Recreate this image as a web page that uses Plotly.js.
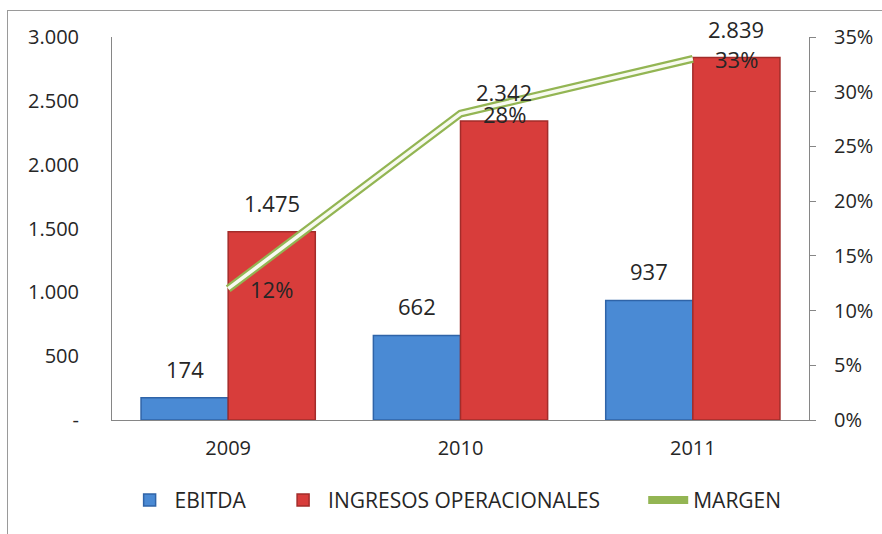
<!DOCTYPE html>
<html>
<head>
<meta charset="utf-8">
<script src="https://cdn.plot.ly/plotly-3.0.1.min.js"></script>
<style>
  html, body { margin: 0; padding: 0; background: #ffffff; overflow: hidden; }
  #chart { position: absolute; left: 0; top: 0; width: 882px; height: 534px; }
  #frame { position: absolute; left: 7px; top: 10px; width: 900px; height: 600px;
           border-left: 1px solid #9a9a9a; border-top: 1px solid #9a9a9a; pointer-events: none; }
</style>
</head>
<body>
<div id="chart"></div>
<div id="frame"></div>
<script>
// ---- data ----
const years = ['2009', '2010', '2011'];
const ebitda = [174, 662, 937];
const ingresos = [1475, 2342, 2839];
const margen = [0.12, 0.28, 0.33];
const margenLabels = ['12%', '28%', '33%'];
const leftTickVals = [0, 500, 1000, 1500, 2000, 2500, 3000];
const leftTickText = ['-', '500', '1.000', '1.500', '2.000', '2.500', '3.000'];

const FONT = 'Open Sans, Roboto, sans-serif';
const TXT = '#262626';
const NB = '\u00a0';
const fmt = v => v.toLocaleString('de-DE');

const traces = [
  {
    type: 'bar', name: 'EBITDA' + NB.repeat(5), x: years, y: ebitda,
    marker: { color: '#4a8ad4', line: { color: '#2f64a8', width: 1.5 } },
    hoverinfo: 'skip'
  },
  {
    type: 'bar', name: 'INGRESOS OPERACIONALES' + NB.repeat(7), x: years, y: ingresos,
    marker: { color: '#d83d3b', line: { color: '#a32c2a', width: 1.5 } },
    hoverinfo: 'skip'
  },
  {
    type: 'scatter', mode: 'lines', name: 'MARGEN', x: years, y: margen, yaxis: 'y2',
    line: { color: '#93b553', width: 8 }, hoverinfo: 'skip'
  },
  {
    type: 'scatter', mode: 'lines', name: 'MARGEN_inner', x: years, y: margen, yaxis: 'y2',
    line: { color: '#f7faef', width: 3.5 }, showlegend: false, hoverinfo: 'skip'
  }
];

const labelFont = { family: FONT, size: 22, color: TXT };
const annotations = [];
years.forEach((yr, i) => {
  annotations.push({ x: i, y: ebitda[i], xref: 'x', yref: 'y', text: fmt(ebitda[i]),
    showarrow: false, xshift: -43.5, yanchor: 'bottom', yshift: 12, font: labelFont });
  annotations.push({ x: i, y: ingresos[i], xref: 'x', yref: 'y', text: fmt(ingresos[i]),
    showarrow: false, xshift: 43.5, yanchor: 'bottom', yshift: 12, font: labelFont });
  annotations.push({ x: i, y: margen[i], xref: 'x', yref: 'y2', text: margenLabels[i],
    showarrow: false, xshift: 43.5, yshift: 0, font: labelFont });
});

const layout = {
  width: 882, height: 534,
  margin: { l: 112, r: 73, t: 37, b: 114 },
  paper_bgcolor: '#ffffff', plot_bgcolor: '#ffffff',
  font: { family: FONT, size: 20, color: TXT },
  barmode: 'group', bargap: 0.25, bargroupgap: 0,
  showlegend: true,
  legend: {
    orientation: 'h', x: 0.493, xanchor: 'center', y: -0.21, yanchor: 'middle',
    font: { family: FONT, size: 21, color: TXT }, itemwidth: 40,
    traceorder: 'normal'
  },
  xaxis: {
    type: 'category', range: [-0.5, 2.5], showgrid: false, zeroline: false,
    showline: true, linecolor: '#868686', linewidth: 1,
    ticks: '', tickfont: { family: FONT, size: 20, color: TXT },
    ticklabelstandoff: 10
  },
  yaxis: {
    range: [0, 3000], tickvals: leftTickVals, ticktext: leftTickText,
    showgrid: false, zeroline: false, showline: true, linecolor: '#868686', linewidth: 1,
    ticks: '', tickfont: { family: FONT, size: 20, color: TXT },
    ticklabelstandoff: 28
  },
  yaxis2: {
    overlaying: 'y', side: 'right', range: [0, 0.35], dtick: 0.05, tickformat: '.0%',
    showgrid: false, zeroline: false, showline: true, linecolor: '#868686', linewidth: 1,
    ticks: 'outside', ticklen: 6, tickcolor: '#868686',
    tickfont: { family: FONT, size: 20, color: TXT },
    ticklabelstandoff: 14
  },
  annotations: annotations
};

Plotly.newPlot('chart', traces, layout, { displayModeBar: false, staticPlot: true });
</script>
</body>
</html>
